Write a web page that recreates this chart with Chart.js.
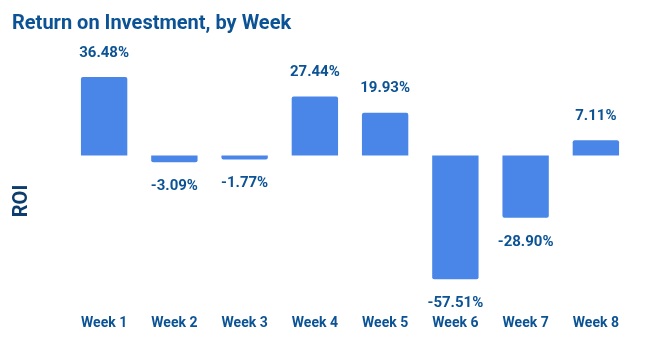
<!DOCTYPE html>
<html>
<head>
<meta charset="utf-8">
<script src="https://cdn.jsdelivr.net/npm/chart.js@4"></script>
<style>
  html, body { margin: 0; padding: 0; background: #fff; }
  #wrap { width: 654px; height: 348px; }
</style>
</head>
<body>
<div id="wrap"><canvas id="roiChart" width="654" height="348"></canvas></div>
<script>
const weeks = ['Week 1', 'Week 2', 'Week 3', 'Week 4', 'Week 5', 'Week 6', 'Week 7', 'Week 8'];
const roi = [36.48, -3.09, -1.77, 27.44, 19.93, -57.51, -28.90, 7.11];

const titleText = 'Return on Investment, by Week';
const axisTitle = 'ROI';
const textColor = '#0b5394';

// Title, y axis title and value labels drawn on the canvas
const labelsPlugin = {
  id: 'roiLabels',
  afterDatasetsDraw(chart) {
    const ctx = chart.ctx;
    ctx.save();
    ctx.fillStyle = textColor;
    ctx.font = 'bold 20px Roboto';
    ctx.textAlign = 'left';
    ctx.textBaseline = 'middle';
    ctx.fillText(titleText, 12, 24);

    ctx.save();
    ctx.translate(22, 201);
    ctx.rotate(-Math.PI / 2);
    ctx.textAlign = 'center';
    ctx.fillStyle = '#0d3c6e';
    ctx.font = 'bold 20px Roboto';
    ctx.fillText(axisTitle, 0, 0);
    ctx.restore();

    ctx.font = 'bold 15px Roboto';
    ctx.textAlign = 'center';
    chart.getDatasetMeta(0).data.forEach((bar, i) => {
      const v = roi[i];
      const y = v >= 0 ? bar.y - 24 : bar.y + 24;
      ctx.fillText(v.toFixed(2) + '%', bar.x, y);
    });
    ctx.restore();
  }
};

new Chart(document.getElementById('roiChart').getContext('2d'), {
  type: 'bar',
  data: {
    labels: weeks,
    datasets: [{
      label: 'ROI',
      data: roi,
      backgroundColor: '#4a86e8',
      borderWidth: 0,
      borderRadius: 2,
      borderSkipped: 'start',
      barPercentage: 0.66,
      categoryPercentage: 1
    }]
  },
  options: {
    responsive: false,
    animation: false,
    layout: { padding: { top: 48, left: 69, right: 23, bottom: 7 } },
    plugins: {
      legend: { display: false },
      tooltip: { enabled: false }
    },
    scales: {
      x: {
        grid: { display: false, drawTicks: false },
        border: { display: false },
        ticks: {
          color: textColor,
          padding: 9,
          font: { family: 'Roboto', size: 14, weight: 'bold' }
        }
      },
      y: {
        display: false,
        min: -70,
        max: 50
      }
    }
  },
  plugins: [labelsPlugin]
});
</script>
</body>
</html>
